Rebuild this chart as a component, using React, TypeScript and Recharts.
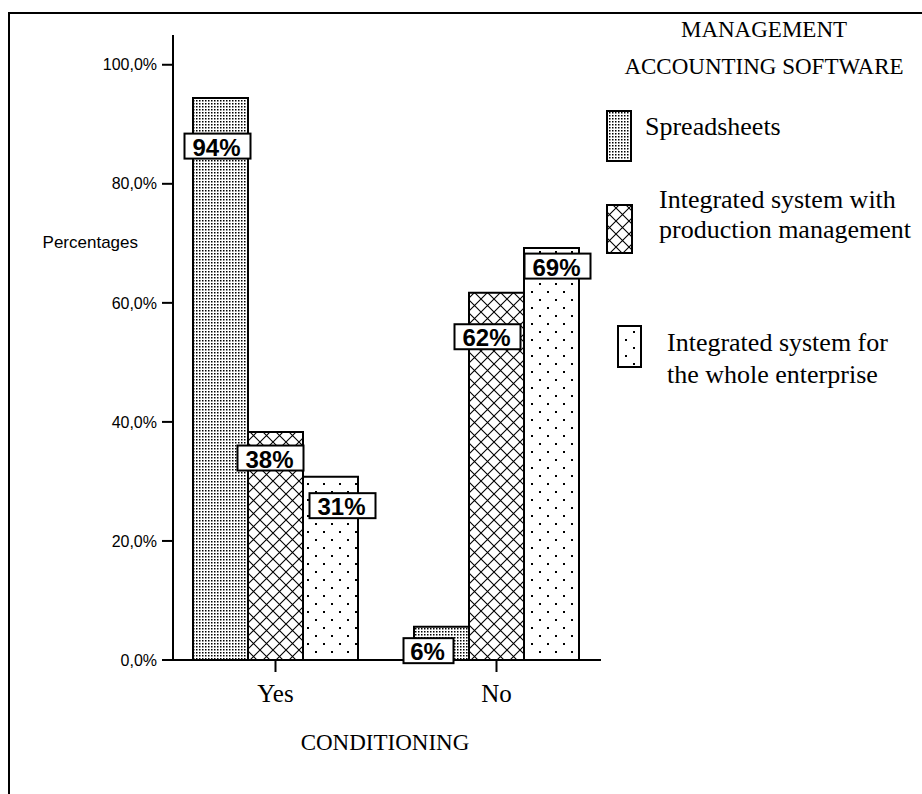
import React from "react";
import { BarChart, Bar, XAxis, YAxis, Legend, LabelList } from "recharts";

const categories = ["Yes", "No"];
const spreadsheets = [94.4, 5.6];
const productionMgmt = [38.3, 61.7];
const wholeEnterprise = [30.8, 69.2];
const yTicks = [0, 20, 40, 60, 80, 100];

const SERIF = '"Liberation Serif", "Times New Roman", serif';
const SANS = '"Liberation Sans", Arial, sans-serif';

const data = categories.map((name, i) => ({
  name,
  spreadsheets: spreadsheets[i],
  production: productionMgmt[i],
  enterprise: wholeEnterprise[i],
}));

// where SPSS dropped each value box, relative to the top centre of its bar
const LABEL_NUDGE: Record<string, number[][]> = {
  spreadsheets: [[-3, 48], [-13, 24]],
  production: [[-5, 26], [-9, 44]],
  enterprise: [[12, 29], [6, 18]],
};

const Patterns = ({ prefix }: { prefix: string }) => (
  <defs>
    <pattern id={`${prefix}-fine`} width={3} height={3} patternUnits="userSpaceOnUse">
      <rect width={3} height={3} fill="#fff" />
      <rect x={1} y={1} width={1.5} height={1.5} fill="#000" />
    </pattern>
    <pattern id={`${prefix}-cross`} width={13} height={13} patternUnits="userSpaceOnUse">
      <rect width={13} height={13} fill="#fff" />
      <path d="M0 0 L13 13 M13 0 L0 13" stroke="#000" strokeWidth={1.1} />
    </pattern>
    <pattern id={`${prefix}-sparse`} width={16} height={16} patternUnits="userSpaceOnUse">
      <rect width={16} height={16} fill="#fff" />
      <rect x={3} y={3} width={2} height={2} fill="#000" />
      <rect x={11} y={11} width={2} height={2} fill="#000" />
    </pattern>
  </defs>
);

const boxLabel = (series: string) => (props: any) => {
  const { x, y, width, value, index } = props;
  const [dx, dy] = LABEL_NUDGE[series][index];
  const text = `${Math.round(Number(value))}%`;
  const w = text.length === 2 ? 50 : 66;
  const h = 25;
  const cx = Number(x) + Number(width) / 2 + dx;
  const cy = Number(y) + dy;
  return (
    <g>
      <rect x={cx - w / 2} y={cy - h / 2} width={w} height={h} fill="#fff" stroke="#000" strokeWidth={2} />
      <text
        x={cx - 1}
        y={cy}
        dy="0.4em"
        textAnchor="middle"
        fontFamily={SANS}
        fontWeight={700}
        fontSize={24}
        fill="#000"
      >
        {text}
      </text>
    </g>
  );
};

const LegendBox = () => (
  <svg width={332} height={400} style={{ display: "block" }}>
    <Patterns prefix="lg" />
    <g fontFamily={SERIF} fill="#000">
      <text x={174} y={37} fontSize={23} textAnchor="middle">MANAGEMENT</text>
      <text x={174} y={74} fontSize={23} textAnchor="middle">ACCOUNTING SOFTWARE</text>

      <rect x={17} y={111} width={24} height={50} fill="url(#lg-fine)" stroke="#000" strokeWidth={2} />
      <text x={55} y={135} fontSize={26}>Spreadsheets</text>

      <rect x={17} y={205} width={25} height={48} fill="url(#lg-cross)" stroke="#000" strokeWidth={2} />
      <text x={69} y={208} fontSize={26}>Integrated system with</text>
      <text x={69} y={238} fontSize={26}>production management</text>

      <rect x={28} y={326} width={23} height={41} fill="url(#lg-sparse)" stroke="#000" strokeWidth={2} />
      <text x={77} y={351} fontSize={26}>Integrated system for</text>
      <text x={77} y={383} fontSize={26}>the whole enterprise</text>
    </g>
  </svg>
);

export default function App() {
  return (
    <div style={{ position: "absolute", left: 0, top: 0, width: 922, height: 794, background: "#fff" }}>
      <div
        style={{
          position: "absolute",
          left: 8,
          top: 12,
          width: 914,
          height: 782,
          borderLeft: "2px solid #000",
          borderTop: "2px solid #000",
        }}
      />
      <div style={{ position: "absolute", left: 0, top: 0 }}>
        <BarChart
          width={922}
          height={794}
          data={data}
          margin={{ top: 35, right: 321, left: 113, bottom: 104 }}
          barCategoryGap={28}
          barGap={0}
        >
          <Patterns prefix="bar" />
          <XAxis
            dataKey="name"
            height={30}
            padding={{ left: -8, right: -6 }}
            tickSize={12}
            tickMargin={12}
            axisLine={{ stroke: "#000", strokeWidth: 2 }}
            tickLine={{ stroke: "#000", strokeWidth: 2 }}
            tick={{ fill: "#000", fontSize: 25, fontFamily: SERIF }}
            label={{
              content: () => (
                <text x={385} y={750} textAnchor="middle" fontFamily={SERIF} fontSize={23} fill="#000">
                  CONDITIONING
                </text>
              ),
            }}
          />
          <YAxis
            domain={[0, 105]}
            ticks={yTicks}
            width={60}
            tickSize={11}
            tickMargin={5}
            tickFormatter={(v: number) => `${v.toFixed(1).replace(".", ",")}%`}
            axisLine={{ stroke: "#000", strokeWidth: 2 }}
            tickLine={{ stroke: "#000", strokeWidth: 2 }}
            tick={{ fill: "#000", fontSize: 16, fontFamily: SANS }}
            label={{
              content: () => (
                <text x={138} y={248} textAnchor="end" fontFamily={SANS} fontSize={17} fill="#000">
                  Percentages
                </text>
              ),
            }}
          />
          <Legend
            layout="vertical"
            align="center"
            verticalAlign="middle"
            content={() => <LegendBox />}
            wrapperStyle={{ position: "absolute", left: 590, top: 0, width: 332, height: 400 }}
          />
          <Bar dataKey="spreadsheets" name="Spreadsheets" fill="url(#bar-fine)" stroke="#000" strokeWidth={2} isAnimationActive={false}>
            <LabelList dataKey="spreadsheets" content={boxLabel("spreadsheets")} />
          </Bar>
          <Bar dataKey="production" name="Integrated system with production management" fill="url(#bar-cross)" stroke="#000" strokeWidth={2} isAnimationActive={false}>
            <LabelList dataKey="production" content={boxLabel("production")} />
          </Bar>
          <Bar dataKey="enterprise" name="Integrated system for the whole enterprise" fill="url(#bar-sparse)" stroke="#000" strokeWidth={2} isAnimationActive={false}>
            <LabelList dataKey="enterprise" content={boxLabel("enterprise")} />
          </Bar>
        </BarChart>
      </div>
    </div>
  );
}
